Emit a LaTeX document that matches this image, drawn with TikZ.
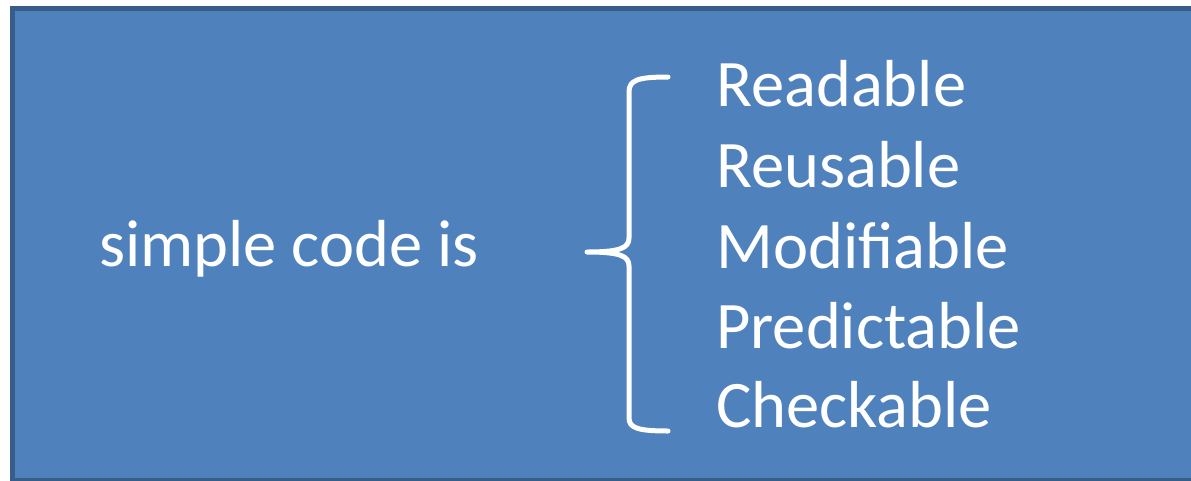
\documentclass[tikz,border=0pt]{standalone}
\usepackage{fontspec}
\setmainfont{Carlito}
\definecolor{boxfill}{HTML}{4F81BD}
\definecolor{boxline}{HTML}{385D8A}
\tikzset{
  label/.style={anchor=base west, inner sep=0pt, text=white, font=\fontsize{66.5}{80}\selectfont},
  bracestyle/.style={draw=white, line width=5pt, line cap=round, line join=round},
}
\begin{document}
\begin{tikzpicture}[x=1pt,y=-1pt]
\useasboundingbox (0,0) rectangle (1191,480);
\clip (0,0) rectangle (1191,480);
\draw[fill=boxfill, draw=boxline, line width=5pt] (12.5,8.5) rectangle (1200,480.5);
\node[label] (subject) at (99,266) {simple code is};
\node[label] (i1) at (716,106) {Readable};
\node[label] (i2) at (716,187) {Reusable};
\node[label] (i3) at (716,268) {Modifiable};
\node[label] (i4) at (716,348) {Predictable};
\node[label] (i5) at (716,427) {Checkable};
\coordinate (btop) at (668,77);
\coordinate (btip) at (587,252);
\coordinate (bbot) at (668,431);
\draw[bracestyle] (btop) .. controls (638,77) and (629,80) .. (629,92) -- (629,238)
  .. controls (629,248) and (620,252) .. (btip)
  .. controls (620,252) and (629,256) .. (629,266) -- (629,418)
  .. controls (629,428) and (638,431) .. (bbot);
\end{tikzpicture}
\end{document}
